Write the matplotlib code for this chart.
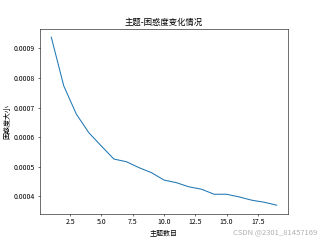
import numpy as np
import matplotlib
matplotlib.use('Agg')
import matplotlib.pyplot as plt

plt.rcParams['font.family'] = ['Noto Sans CJK SC', 'DejaVu Sans']
plt.rcParams['axes.unicode_minus'] = False

# topic counts and perplexity
topics = list(range(1, 20))
perplexity = [0.000938, 0.000773, 0.000678, 0.000615, 0.000570, 0.000526,
              0.000517, 0.000497, 0.000480, 0.000455, 0.000446, 0.000432,
              0.000424, 0.000407, 0.000407, 0.000398, 0.000387, 0.000380,
              0.000370]

fig = plt.figure(figsize=(6.4, 4.8), dpi=50)
plt.plot(topics, perplexity, color='#1f77b4')
plt.title('主题-困惑度变化情况')
plt.xlabel('主题数目')
plt.ylabel('困惑度大小')
# watermark
fig.text(0.99, 0.015, 'CSDN @2301_81457169', ha='right', va='bottom',
         color='#b0b0b0', fontsize=11)
plt.savefig('out.png')
